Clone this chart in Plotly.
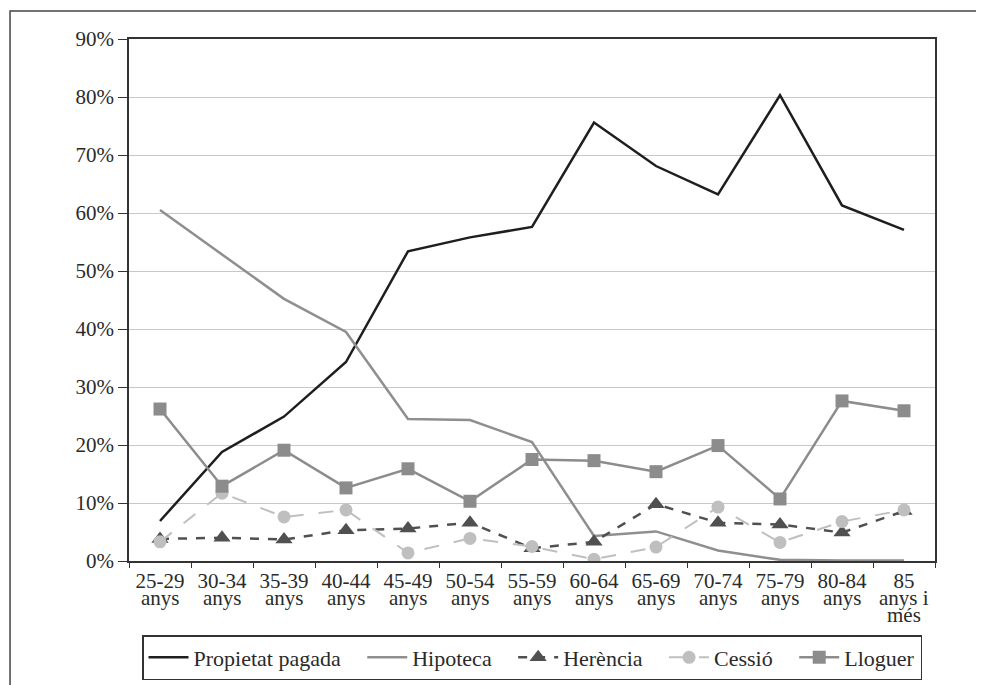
import plotly.graph_objects as go

# -------- データ --------
categories = ["25-29", "30-34", "35-39", "40-44", "45-49", "50-54", "55-59",
              "60-64", "65-69", "70-74", "75-79", "80-84", "85+"]
# ラベル1行目（目盛り）と2・3行目（注釈）
tick_line1 = ["25-29", "30-34", "35-39", "40-44", "45-49", "50-54", "55-59",
              "60-64", "65-69", "70-74", "75-79", "80-84", "85"]
tick_line2 = ["anys"] * 12 + ["anys i"]
tick_line3 = [""] * 12 + ["més"]

propietat = [6.9, 18.8, 24.9, 34.3, 53.4, 55.8, 57.6, 75.6, 68.1, 63.2, 80.3, 61.3, 57.1]
hipoteca  = [60.5, 52.8, 45.2, 39.5, 24.5, 24.3, 20.5, 4.3, 5.1, 1.8, 0.2, 0.1, 0.1]
herencia  = [3.8, 4.0, 3.7, 5.3, 5.6, 6.6, 2.2, 3.3, 9.8, 6.6, 6.3, 4.9, 8.6]
cessio    = [3.3, 11.7, 7.6, 8.8, 1.4, 3.9, 2.5, 0.3, 2.4, 9.3, 3.2, 6.8, 8.8]
lloguer   = [26.2, 12.9, 19.1, 12.6, 15.9, 10.3, 17.5, 17.3, 15.4, 19.9, 10.7, 27.6, 25.9]

FONT = "'Liberation Serif', 'DejaVu Serif', serif"
TXT = "#2a2a2a"
PAD = "\u00a0\u00a0\u00a0"   # 凡例の項目間隔を広げる

fig = go.Figure()

fig.add_trace(go.Scatter(
    x=categories, y=propietat, name="Propietat pagada" + PAD, mode="lines",
    line=dict(color="#1e1e1e", width=2.5)
))
fig.add_trace(go.Scatter(
    x=categories, y=hipoteca, name="Hipoteca" + PAD, mode="lines",
    line=dict(color="#8f8f8f", width=2.5)
))
fig.add_trace(go.Scatter(
    x=categories, y=herencia, name="Herència" + PAD, mode="lines+markers",
    line=dict(color="#505050", width=2.5, dash="dash"),
    marker=dict(symbol="triangle-up", size=15, color="#505050")
))
fig.add_trace(go.Scatter(
    x=categories, y=cessio, name="Cessió" + PAD, mode="lines+markers",
    line=dict(color="#bfbfbf", width=2, dash="longdash"),
    marker=dict(symbol="circle", size=13, color="#bfbfbf")
))
fig.add_trace(go.Scatter(
    x=categories, y=lloguer, name="Lloguer", mode="lines+markers",
    line=dict(color="#8c8c8c", width=2.5),
    marker=dict(symbol="square", size=13, color="#8c8c8c")
))

# x軸ラベルの2・3行目（行間を詰めるため注釈で描く）
annotations = []
for cat, l2, l3 in zip(categories, tick_line2, tick_line3):
    annotations.append(dict(x=cat, xref="x", y=-0.0709, yref="paper", text=l2,
                            showarrow=False, yanchor="middle", xanchor="center",
                            font=dict(family=FONT, size=21, color=TXT)))
    if l3:
        annotations.append(dict(x=cat, xref="x", y=-0.1034, yref="paper", text=l3,
                                showarrow=False, yanchor="middle", xanchor="center",
                                font=dict(family=FONT, size=21, color=TXT)))

# -------- レイアウト --------
fig.update_layout(
    width=984, height=685,
    paper_bgcolor="white", plot_bgcolor="white",
    font=dict(family=FONT, size=21, color=TXT),
    margin=dict(l=121, r=57, t=31, b=132, autoexpand=False),
    showlegend=True,
    legend=dict(
        orientation="h", x=0.5, y=-0.1418, xanchor="center", yanchor="top",
        font=dict(family=FONT, size=22, color=TXT),
        bordercolor="#333333", borderwidth=1.5,
        itemwidth=40, tracegroupgap=0,
    ),
    annotations=annotations,
    shapes=[dict(
        type="rect", xref="paper", yref="paper",
        x0=-0.1476, x1=1.2, y0=1.0536, y1=-0.4,
        line=dict(color="#444444", width=1.5), fillcolor="rgba(0,0,0,0)", layer="below"
    )],
)

fig.update_xaxes(
    type="category", tickvals=categories, ticktext=tick_line1,
    tickson="boundaries", ticks="outside", ticklen=5, tickcolor="#333333",
    showline=True, linecolor="#333333", linewidth=1.5, mirror=True,
    showgrid=False, zeroline=False,
    tickfont=dict(family=FONT, size=21, color=TXT),
    range=[-0.5, 12.5],
)
fig.update_yaxes(
    range=[0, 90], dtick=10, ticksuffix="%",
    ticks="outside", ticklen=9, tickcolor="#333333",
    showline=True, linecolor="#333333", linewidth=1.5, mirror=True,
    showgrid=True, gridcolor="#c8c8c8", gridwidth=1.2,
    zeroline=False,
    tickfont=dict(family=FONT, size=21, color=TXT),
)

fig.write_html("out.html")
